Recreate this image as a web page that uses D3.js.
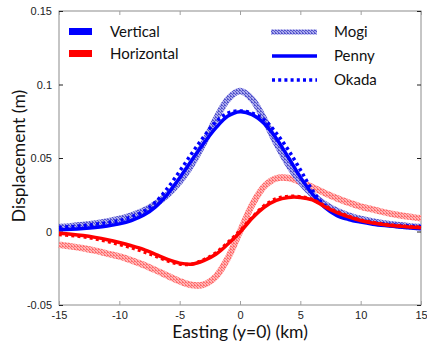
<!DOCTYPE html>
<html>
<head>
<meta charset="utf-8">
<script src="https://cdn.jsdelivr.net/npm/d3@7"></script>
<style>
  html, body { margin: 0; padding: 0; background: #fff; }
  svg { display: block; }
</style>
</head>
<body>
<svg id="chart" width="427" height="345"></svg>
<script>
// Surface displacement profiles along y = 0 for three source models
const easting = d3.range(-15, 16); // km

const mogiVertical = [0.0030, 0.0036, 0.0044, 0.0054, 0.0068, 0.0085, 0.0109, 0.0142, 0.0188, 0.0251,
  0.0338, 0.0455, 0.0602, 0.0764, 0.0900, 0.0955, 0.0900, 0.0764, 0.0602, 0.0455,
  0.0338, 0.0251, 0.0188, 0.0142, 0.0109, 0.0085, 0.0068, 0.0054, 0.0044, 0.0036, 0.0030];
const mogiHorizontal = [-0.0090, -0.0101, -0.0114, -0.0130, -0.0150, -0.0170, -0.0196, -0.0227, -0.0263, -0.0301,
  -0.0338, -0.0364, -0.0361, -0.0306, -0.0180, 0.0000, 0.0180, 0.0306, 0.0361, 0.0364,
  0.0338, 0.0301, 0.0263, 0.0227, 0.0196, 0.0170, 0.0150, 0.0130, 0.0114, 0.0101, 0.0090];
const pennyVertical = [0.0012, 0.0015, 0.0020, 0.0027, 0.0037, 0.0052, 0.0075, 0.0110, 0.0168, 0.0255,
  0.0365, 0.0485, 0.0600, 0.0705, 0.0785, 0.0815, 0.0795, 0.0735, 0.0635, 0.0505,
  0.0370, 0.0255, 0.0165, 0.0110, 0.0082, 0.0064, 0.0050, 0.0040, 0.0032, 0.0025, 0.0018];
const pennyHorizontal = [-0.0012, -0.0018, -0.0027, -0.0040, -0.0056, -0.0075, -0.0097, -0.0122, -0.0155, -0.0190,
  -0.0215, -0.0222, -0.0198, -0.0155, -0.0085, -0.0005, 0.0090, 0.0165, 0.0212, 0.0232,
  0.0232, 0.0215, 0.0170, 0.0130, 0.0100, 0.0075, 0.0058, 0.0046, 0.0037, 0.0031, 0.0026];
const okadaVertical = [0.0028, 0.0033, 0.0040, 0.0049, 0.0060, 0.0075, 0.0100, 0.0135, 0.0200, 0.0295,
  0.0410, 0.0530, 0.0645, 0.0745, 0.0805, 0.0820, 0.0805, 0.0760, 0.0670, 0.0555,
  0.0420, 0.0280, 0.0180, 0.0120, 0.0090, 0.0072, 0.0060, 0.0050, 0.0043, 0.0038, 0.0034];
const okadaHorizontal = [-0.0020, -0.0027, -0.0036, -0.0050, -0.0067, -0.0088, -0.0110, -0.0137, -0.0168, -0.0200,
  -0.0222, -0.0222, -0.0192, -0.0145, -0.0075, 0.0005, 0.0095, 0.0175, 0.0222, 0.0238,
  0.0236, 0.0218, 0.0175, 0.0135, 0.0103, 0.0078, 0.0061, 0.0049, 0.0040, 0.0033, 0.0028];

const xTicks = [-15, -10, -5, 0, 5, 10, 15];
const xTickLabels = ["-15", "-10", "-5", "0", "5", "10", "15"];
const yTicks = [-0.05, 0, 0.05, 0.1, 0.15];
const yTickLabels = ["-0.05", "0", "0.05", "0.1", "0.15"];
const componentLabels = ["Vertical", "Horizontal"];
const modelLabels = ["Mogi", "Penny", "Okada"];

const svg = d3.select("#chart");
const margin = { left: 59, right: 6, top: 11, bottom: 40 };
const W = 427, H = 345;
const x = d3.scaleLinear().domain([-15, 15]).range([margin.left, W - margin.right]);
const y = d3.scaleLinear().domain([-0.05, 0.15]).range([H - margin.bottom, margin.top]);

// Textured stroke fills for the Mogi curves
const defs = svg.append("defs");
function checker(id, dark, light) {
  const p = defs.append("pattern").attr("id", id)
    .attr("patternUnits", "userSpaceOnUse").attr("width", 3).attr("height", 3);
  p.append("rect").attr("width", 3).attr("height", 3).attr("fill", light);
  [[0, 0], [1, 1], [2, 2], [2, 0]].forEach(([px, py]) =>
    p.append("rect").attr("x", px).attr("y", py).attr("width", 1).attr("height", 1).attr("fill", dark));
}
checker("mogiBlue", "#5555cc", "#a9a9ec");
checker("mogiRed", "#ff6e6e", "#ffb4b4");

// Frame
svg.append("rect")
  .attr("x", x(-15)).attr("y", y(0.15))
  .attr("width", x(15) - x(-15)).attr("height", y(-0.05) - y(0.15))
  .attr("fill", "none").attr("stroke", "#8c8c8c").attr("stroke-width", 1);

// Axes with inward ticks
const tickFont = "'Liberation Sans', Arial, sans-serif";
const xBottom = svg.append("g").attr("transform", `translate(0,${y(-0.05)})`)
  .call(d3.axisBottom(x).tickValues(xTicks).tickSizeInner(-4).tickSizeOuter(0).tickPadding(6)
    .tickFormat((d, i) => xTickLabels[i]));
const xTop = svg.append("g").attr("transform", `translate(0,${y(0.15)})`)
  .call(d3.axisTop(x).tickValues(xTicks).tickSizeInner(-4).tickSizeOuter(0).tickFormat(""));
const yLeft = svg.append("g").attr("transform", `translate(${x(-15)},0)`)
  .call(d3.axisLeft(y).tickValues(yTicks).tickSizeInner(-4).tickSizeOuter(0).tickPadding(7)
    .tickFormat((d, i) => yTickLabels[i]));
const yRight = svg.append("g").attr("transform", `translate(${x(15)},0)`)
  .call(d3.axisRight(y).tickValues(yTicks).tickSizeInner(-4).tickSizeOuter(0).tickFormat(""));

[xBottom, xTop, yLeft, yRight].forEach(g => {
  g.select(".domain").remove();
  g.selectAll("text").attr("font-family", tickFont).attr("font-size", 11).attr("fill", "#222");
});
[xBottom, xTop].forEach(g => g.selectAll(".tick line").attr("stroke", "#a0a0a0"));
[yLeft, yRight].forEach(g => g.selectAll(".tick line").attr("stroke", "#222"));

// Curves
const line = d3.line().x(d => x(d[0])).y(d => y(d[1])).curve(d3.curveCatmullRom.alpha(0.5));
const pts = vals => easting.map((e, i) => [e, vals[i]]);
const plot = svg.append("g");

const series = [
  { v: mogiHorizontal, stroke: "url(#mogiRed)", w: 6.5 },
  { v: mogiVertical, stroke: "url(#mogiBlue)", w: 6.5 },
  { v: pennyVertical, stroke: "#0000ff", w: 3.5 },
  { v: okadaVertical, stroke: "#0000ff", w: 3.5, dash: "3,3.2" },
  { v: pennyHorizontal, stroke: "#ff0000", w: 3.5 },
  { v: okadaHorizontal, stroke: "#ff0000", w: 3.5, dash: "3,3.2" }
];
series.forEach(s => {
  plot.append("path").datum(pts(s.v))
    .attr("d", line)
    .attr("fill", "none")
    .attr("stroke", s.stroke)
    .attr("stroke-width", s.w)
    .attr("stroke-dasharray", s.dash || null);
});

// Legends
const labelFont = "Lato, 'Open Sans', sans-serif";
const compColors = ["#0000ff", "#ff0000"];
componentLabels.forEach((lab, i) => {
  svg.append("rect").attr("x", 69).attr("y", 28 + i * 22).attr("width", 23).attr("height", 7)
    .attr("fill", compColors[i]);
  svg.append("text").attr("x", 110).attr("y", 37 + i * 22).text(lab)
    .attr("font-family", labelFont).attr("font-size", 15).attr("fill", "#111");
});

modelLabels.forEach((lab, i) => {
  const ly = 32 + i * 24;
  if (i === 0) {
    svg.append("rect").attr("x", 271).attr("y", ly - 2.5).attr("width", 46).attr("height", 5)
      .attr("fill", "url(#mogiBlue)");
  } else {
    svg.append("line").attr("x1", 272).attr("x2", 317).attr("y1", ly).attr("y2", ly)
      .attr("stroke", "#0000ff").attr("stroke-width", 3.5)
      .attr("stroke-dasharray", i === 2 ? "3,3.2" : null);
  }
  svg.append("text").attr("x", 334).attr("y", ly + 5).text(lab)
    .attr("font-family", labelFont).attr("font-size", 15).attr("fill", "#111");
});

// Axis titles
svg.append("text").attr("x", x(0)).attr("y", 338).attr("text-anchor", "middle")
  .attr("font-family", labelFont).attr("font-size", 17.5).attr("fill", "#111")
  .text("Easting (y=0) (km)");
svg.append("text").attr("transform", `translate(25,${y(0.05) - 2}) rotate(-90)`)
  .attr("text-anchor", "middle")
  .attr("font-family", labelFont).attr("font-size", 17.5).attr("fill", "#111")
  .text("Displacement (m)");
</script>
</body>
</html>
